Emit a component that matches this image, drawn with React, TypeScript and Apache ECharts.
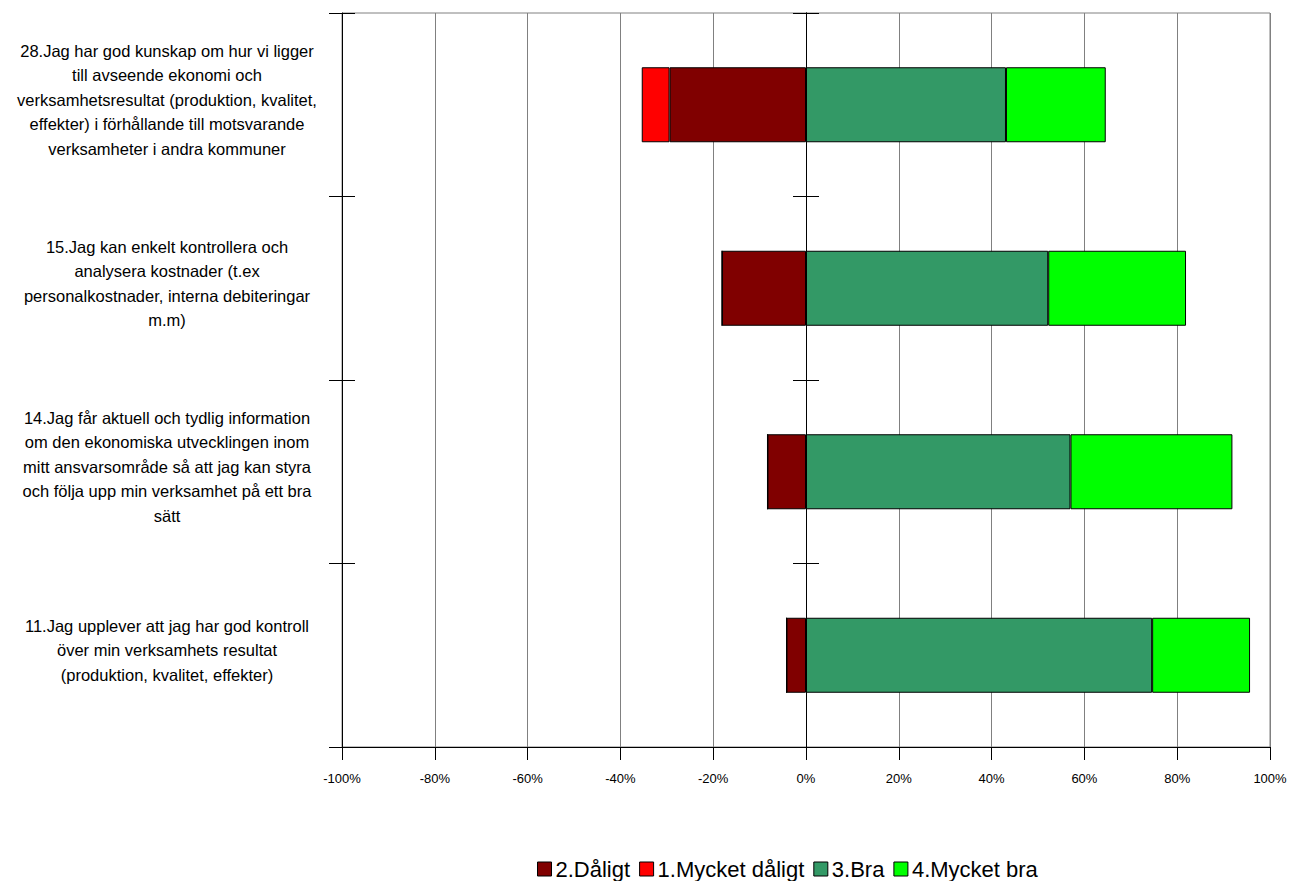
import React, { useEffect, useRef } from "react";
import * as echarts from "echarts";

const categories = [
  "28.Jag har god kunskap om hur vi ligger\ntill avseende ekonomi och\nverksamhetsresultat (produktion, kvalitet,\neffekter) i förhållande till motsvarande\nverksamheter i andra kommuner",
  "15.Jag kan enkelt kontrollera och\nanalysera kostnader (t.ex\npersonalkostnader, interna debiteringar\nm.m)",
  "14.Jag får aktuell och tydlig information\nom den ekonomiska utvecklingen inom\nmitt ansvarsområde så att jag kan styra\noch följa upp min verksamhet på ett bra\nsätt",
  "11.Jag upplever att jag har god kontroll\növer min verksamhets resultat\n(produktion, kvalitet, effekter)",
];

const daligt = [-29.4, -18.1, -8.3, -4.2];
const mycketDaligt = [-6.0, 0, 0, 0];
const bra = [43.1, 52.2, 57.0, 74.6];
const mycketBra = [21.5, 29.7, 34.9, 21.1];

const xTicks = { min: -100, max: 100, interval: 20 };

const FONT = "'Liberation Sans', Arial, sans-serif";

export default function App() {
  const ref = useRef<HTMLDivElement>(null);
  useEffect(() => {
    if (!ref.current) return;
    const chart = echarts.init(ref.current, null, { renderer: "svg" });
    const catAxisBase = {
      type: "category",
      inverse: true,
      data: categories,
      axisLabel: { show: false },
      splitLine: { show: false },
    };
    const mk = (name: string, data: number[], color: string) => ({
      name,
      type: "bar",
      stack: "total",
      data,
      barWidth: 75,
      yAxisIndex: 0,
      itemStyle: { color, borderColor: "#000", borderWidth: 1 },
    });
    const legendItem = (name: string) => ({
      name,
      itemStyle: { borderColor: "#000", borderWidth: 1 },
    });
    const lineStyle = { fontSize: 16.5, lineHeight: 24.5, color: "#000", fontFamily: FONT };
    chart.setOption({
      animation: false,
      textStyle: { fontFamily: FONT },
      grid: {
        left: 342,
        right: 20,
        top: 13,
        bottom: 134,
        show: true,
        borderColor: "#808080",
        borderWidth: 1,
      },
      legend: {
        top: 858,
        left: 537,
        padding: 0,
        itemWidth: 14,
        itemHeight: 14,
        itemGap: 9,
        icon: "rect",
        textStyle: { fontSize: 22, color: "#000", fontFamily: FONT, padding: [0, 0, 0, -1] },
        data: [
          legendItem("2.Dåligt"),
          legendItem("1.Mycket dåligt"),
          legendItem("3.Bra"),
          legendItem("4.Mycket bra"),
        ],
      },
      xAxis: {
        type: "value",
        min: xTicks.min,
        max: xTicks.max,
        interval: xTicks.interval,
        axisLine: { show: true, onZero: false, lineStyle: { color: "#000", width: 1 } },
        axisTick: { show: true, length: 13, lineStyle: { color: "#000" } },
        axisLabel: {
          formatter: "{value}%",
          fontSize: 13,
          color: "#000",
          margin: 25,
          fontFamily: FONT,
        },
        splitLine: { show: true, lineStyle: { color: "#808080", width: 1 } },
      },
      yAxis: [
        {
          ...catAxisBase,
          position: "left",
          axisLine: { show: true, onZero: false, lineStyle: { color: "#000" } },
          axisTick: { show: true, inside: false, length: 13, lineStyle: { color: "#000" } },
          axisLabel: {
            show: true,
            margin: 175,
            align: "center",
            ...lineStyle,
            formatter: (v: string) =>
              v
                .split("\n")
                .map((l) => "{t|" + l + "}")
                .join("\n") + "\n{s| }",
            rich: {
              t: { ...lineStyle, align: "center" },
              s: { fontSize: 2, lineHeight: 10, align: "center" },
            },
          },
        },
        {
          ...catAxisBase,
          position: "left",
          axisLine: { show: false, onZero: false },
          axisTick: { show: true, inside: true, length: 13, lineStyle: { color: "#000" } },
        },
        {
          ...catAxisBase,
          position: "left",
          axisLine: { show: true, onZero: true, onZeroAxisIndex: 0, lineStyle: { color: "#000" } },
          axisTick: { show: true, inside: false, length: 13, lineStyle: { color: "#000" } },
        },
        {
          ...catAxisBase,
          position: "left",
          axisLine: { show: true, onZero: true, onZeroAxisIndex: 0, lineStyle: { color: "#000" } },
          axisTick: { show: true, inside: true, length: 13, lineStyle: { color: "#000" } },
        },
      ],
      series: [
        mk("2.Dåligt", daligt, "#800000"),
        mk("1.Mycket dåligt", mycketDaligt, "#FF0000"),
        mk("3.Bra", bra, "#339966"),
        mk("4.Mycket bra", mycketBra, "#00FF00"),
      ],
    });
    return () => chart.dispose();
  }, []);
  return (
    <div
      ref={ref}
      style={{ position: "absolute", left: 0, top: 0, width: 1290, height: 881 }}
    />
  );
}
